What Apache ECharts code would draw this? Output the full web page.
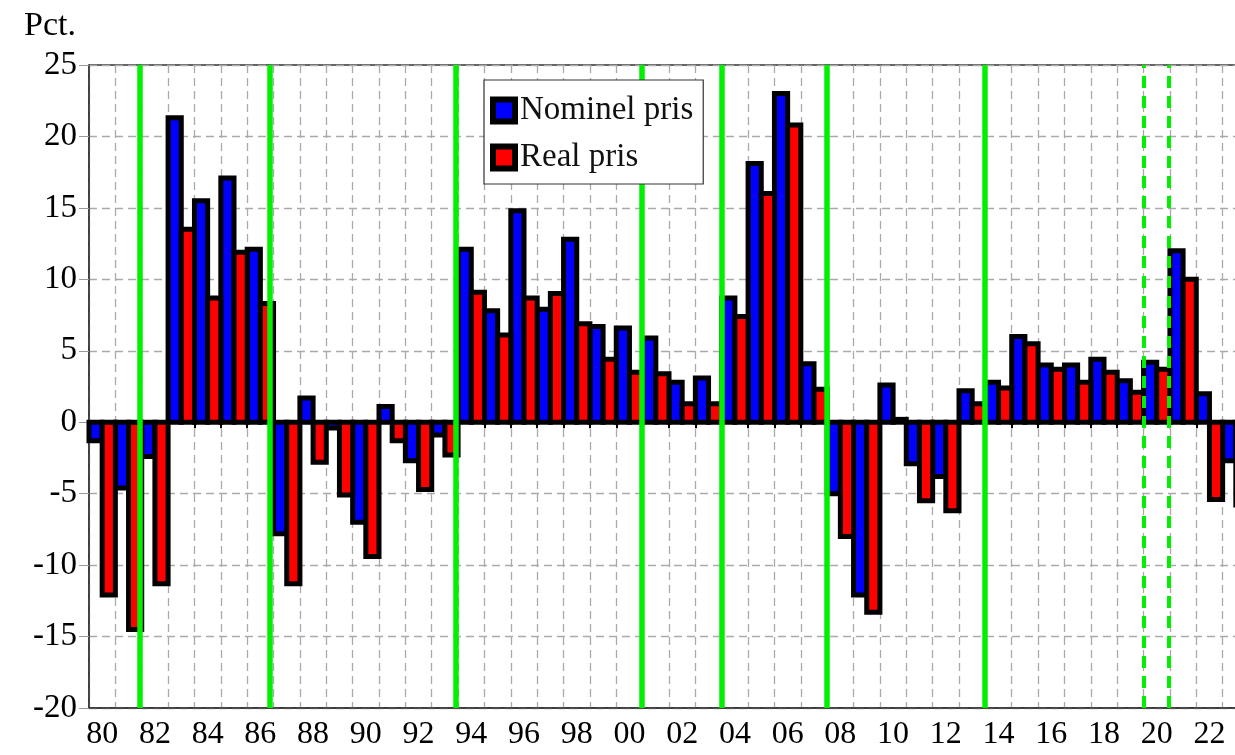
<!DOCTYPE html>
<html>
<head>
<meta charset="utf-8">
<script src="https://cdn.jsdelivr.net/npm/echarts@6/dist/echarts.min.js"></script>
<style>
  html, body { margin: 0; padding: 0; background: #fff; }
  #main { width: 1235px; height: 755px; }
</style>
</head>
<body>
<div id="main"></div>
<script>
var chartDom = document.getElementById('main');
var myChart = echarts.init(chartDom);
var option;

// Years 1980-2023 (the right edge of the chart is cut off in the original)
const years = ['1980', '1981', '1982', '1983', '1984', '1985', '1986', '1987', '1988', '1989',
    '1990', '1991', '1992', '1993', '1994', '1995', '1996', '1997', '1998', '1999',
    '2000', '2001', '2002', '2003', '2004', '2005', '2006', '2007', '2008', '2009',
    '2010', '2011', '2012', '2013', '2014', '2015', '2016', '2017', '2018', '2019',
    '2020', '2021', '2022', '2023'];

// Annual change in house prices, pct.
const nominal = [-1.3, -4.6, -2.4, 21.3, 15.5, 17.1, 12.1, -7.8, 1.7, -0.4,
    -7.0, 1.1, -2.7, -0.9, 12.1, 7.8, 14.8, 7.9, 12.8, 6.7,
    6.6, 5.9, 2.8, 3.1, 8.7, 18.1, 23.0, 4.1, -5.0, -12.1,
    2.6, -2.9, -3.8, 2.2, 2.8, 6.0, 4.0, 4.0, 4.4, 2.9,
    4.2, 12.0, 2.0, -2.7];
const real = [-12.1, -14.5, -11.3, 13.5, 8.7, 11.9, 8.3, -11.3, -2.8, -5.1,
    -9.4, -1.3, -4.7, -2.3, 9.1, 6.1, 8.7, 9.0, 6.9, 4.4,
    3.5, 3.4, 1.3, 1.3, 7.4, 16.0, 20.8, 2.3, -8.0, -13.3,
    0.2, -5.5, -6.2, 1.3, 2.4, 5.5, 3.7, 2.8, 3.5, 2.1,
    3.7, 10.0, -5.4, -5.8];

// Green marker lines (position in years)
const solidEvents = [1981.91, 1986.87, 1993.93, 2000.95, 2004.01, 2007.99, 2013.99];
const dashedEvents = [2019.99, 2020.94];

const serif = "'Liberation Serif', 'DejaVu Serif', serif";
const green = '#00f000';
const outline = 5;

// Bars drawn as rects so the thick shared black outline looks like the original.
// slot 0 = left half of the year, slot 1 = right half
function barRenderer(slot, fill) {
    return function (params, api) {
        const idx = api.value(0);
        const val = api.value(1);
        const band = api.size([1, 0])[0];
        const base = api.coord([idx, 0]);
        const tip = api.coord([idx, val]);
        const half = band / 2;
        return {
            type: 'rect',
            shape: {
                x: base[0] - half + slot * half,
                y: Math.min(base[1], tip[1]),
                width: half,
                height: Math.abs(tip[1] - base[1])
            },
            style: { fill: fill, stroke: '#000', lineWidth: outline }
        };
    };
}

option = {
    animation: false,
    title: {
        text: 'Pct.',
        left: 19,
        top: 4,
        textStyle: { fontFamily: serif, fontSize: 34, fontWeight: 'normal', color: '#000' }
    },
    legend: {
        data: [
            { name: 'Nominel pris', icon: 'rect', itemStyle: { color: '#0000ff', borderColor: '#000', borderWidth: 6 } },
            { name: 'Real pris', icon: 'rect', itemStyle: { color: '#ff0000', borderColor: '#000', borderWidth: 6 } }
        ],
        orient: 'vertical',
        left: 484,
        top: 80,
        itemWidth: 22,
        itemHeight: 22,
        itemGap: 14,
        padding: [14, 10, 10, 6],
        backgroundColor: '#fff',
        borderColor: '#333',
        borderWidth: 1.2,
        selectedMode: false,
        z: 10,
        textStyle: { fontFamily: serif, fontSize: 33, color: '#111' }
    },
    grid: {
        left: 89,
        top: 65,
        width: 1160,
        height: 643,
        outerBoundsMode: 'none',
        show: true,
        borderColor: '#333',
        borderWidth: 1.5
    },
    xAxis: [
        {
            type: 'category',
            data: years,
            position: 'bottom',
            axisLine: { onZero: false, lineStyle: { color: '#333', width: 1.5 } },
            axisTick: { show: false },
            axisLabel: {
                interval: 1,
                margin: 11,
                fontFamily: serif,
                fontSize: 32,
                color: '#000',
                formatter: function (v) { return v.slice(2); }
            },
            splitLine: { show: true, interval: 0, lineStyle: { color: '#aaa', type: [8, 5], width: 1.3 } }
        },
        {
            // the zero line with its small ticks
            type: 'category',
            data: years,
            position: 'top',
            axisLine: { onZero: true, lineStyle: { color: '#000', width: 3.5 } },
            axisTick: { show: true, inside: true, interval: 0, length: 6, lineStyle: { color: '#000', width: 2 } },
            axisLabel: { show: false },
            splitLine: { show: false }
        },
        {
            // year scale for the green lines
            type: 'value',
            min: 1980,
            max: 2024,
            show: false
        }
    ],
    yAxis: {
        type: 'value',
        min: -20,
        max: 25,
        interval: 5,
        axisLine: { show: true, onZero: false, lineStyle: { color: '#333', width: 1.5 } },
        axisTick: { show: true, length: 10, lineStyle: { color: '#999' } },
        axisLabel: { margin: 12, fontFamily: serif, fontSize: 33, color: '#000' },
        splitLine: { lineStyle: { color: '#aaa', type: [8, 5], width: 1.3 } }
    },
    series: [
        {
            name: 'Nominel pris',
            type: 'custom',
            xAxisIndex: 0,
            itemStyle: { color: '#0000ff' },
            renderItem: barRenderer(0, '#0000ff'),
            encode: { x: 0, y: 1 },
            data: nominal.map(function (v, i) { return [i, v]; }),
            z: 2
        },
        {
            name: 'Real pris',
            type: 'custom',
            xAxisIndex: 0,
            itemStyle: { color: '#ff0000' },
            renderItem: barRenderer(1, '#ff0000'),
            encode: { x: 0, y: 1 },
            data: real.map(function (v, i) { return [i, v]; }),
            z: 2
        },
        {
            name: 'solid',
            type: 'line',
            xAxisIndex: 2,
            data: [],
            z: 5,
            markLine: {
                silent: true,
                symbol: ['none', 'none'],
                label: { show: false },
                lineStyle: { color: green, width: 5.5, type: 'solid' },
                data: solidEvents.map(function (x) { return { xAxis: x }; })
            }
        },
        {
            name: 'dashed',
            type: 'line',
            xAxisIndex: 2,
            data: [],
            z: 5,
            markLine: {
                silent: true,
                symbol: ['none', 'none'],
                label: { show: false },
                lineStyle: { color: green, width: 4, type: [12, 8] },
                data: dashedEvents.map(function (x) { return { xAxis: x }; })
            }
        }
    ]
};

myChart.setOption(option);
</script>
</body>
</html>
